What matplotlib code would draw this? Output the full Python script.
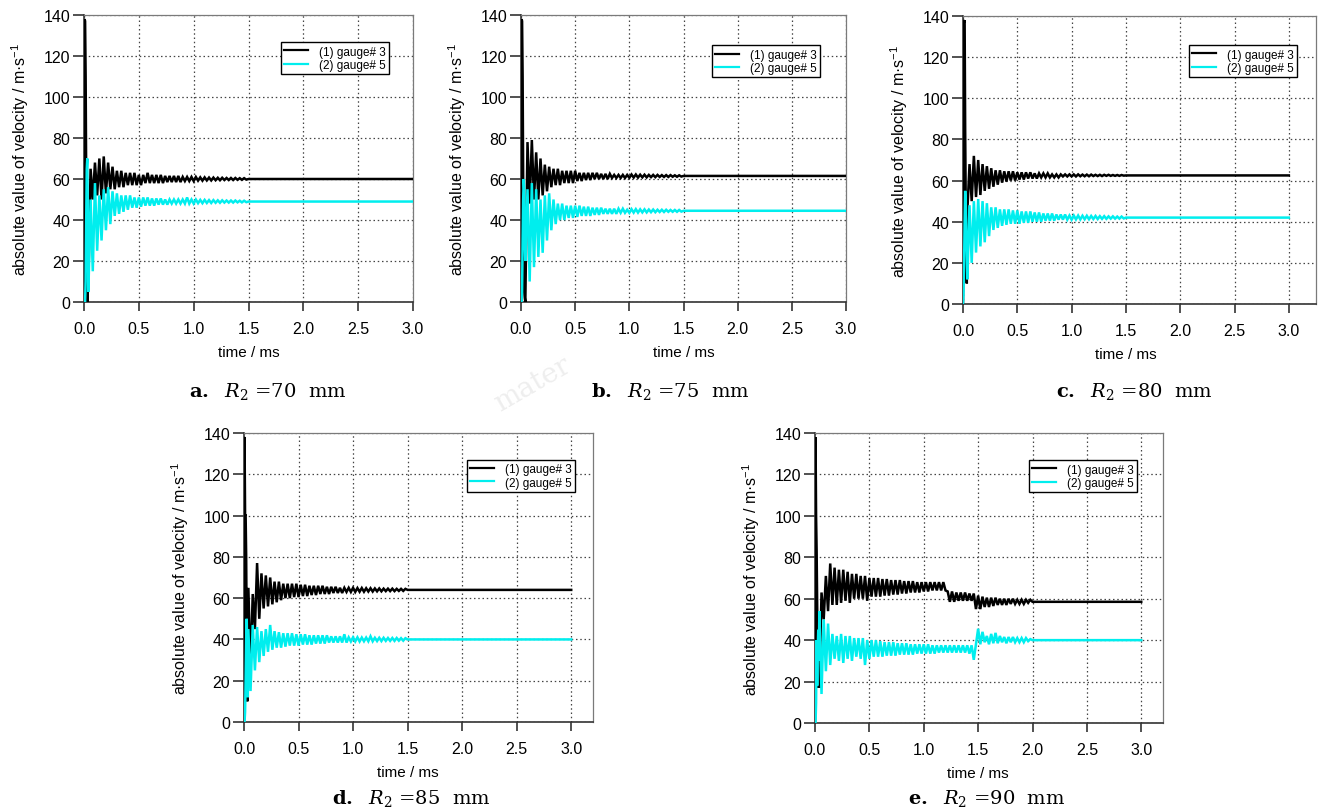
import numpy as np
import matplotlib
matplotlib.use("Agg")
import matplotlib.pyplot as plt
from matplotlib import font_manager

# time samples (ms)
T_SPIKE = [0.0, 0.005, 0.01, 0.015, 0.02, 0.025, 0.03, 0.035]
BAND_T0, BAND_DT = 0.04, 0.02      # ringing part, one sample every 0.02 ms
T_TAIL = [1.5, 2.0, 2.5, 3.0]
T_TAIL_E = [2.0, 2.5, 3.0]

# a. R2 = 70 mm
a_g3_spike = [0, 138, 137, 110, 60, 20, 0, 5]
a_g3_band = [10, 65, 50, 68, 52, 70, 50, 71, 53, 68, 55, 66, 55, 64, 56, 64, 56, 63, 57, 63,
             57, 63, 57, 62, 57, 62, 58, 63, 58, 62, 58, 62, 58, 62, 58, 61.5, 58.5, 61.5, 58.5, 61.5,
             58.5, 61.5, 58.5, 61, 59, 61, 59, 61,
             59, 61, 59.2, 60.8, 59.2, 60.8, 59.3, 60.7, 59.3, 60.7, 59.4, 60.6, 59.4, 60.6, 59.5, 60.5,
             59.5, 60.5, 59.5, 60.5, 59.6, 60.4, 59.6, 60.4, 59.7]
a_g3_tail = [60, 60, 60, 60]
a_g5_spike = [0, 0, 0, 10, 40, 65, 70, 40]
a_g5_band = [5, 50, 15, 58, 25, 52, 30, 55, 35, 56, 38, 54, 42, 53, 43, 52, 44, 52, 45, 52,
             46, 51, 46, 51, 46.5, 51, 47, 51, 47, 50.5, 47, 50.5, 47.5, 50.5, 47.5, 50, 47.5, 50, 48, 50,
             48, 50, 48, 50, 48, 51, 48, 50,
             48, 50, 48.2, 49.8, 48.2, 49.8, 48.3, 49.7, 48.3, 49.7, 48.4, 49.6, 48.4, 49.6, 48.5, 49.5,
             48.5, 49.5, 48.5, 49.5, 48.6, 49.4, 48.6, 49.4, 48.7]
a_g5_tail = [49, 49, 49, 49]

# b. R2 = 75 mm
b_g3_spike = [0, 138, 137, 110, 60, 30, 5, 2]
b_g3_band = [0, 78, 48, 79, 50, 73, 50, 70, 52, 67, 54, 66, 56, 65, 57, 65, 57, 64, 58, 64,
             58, 64, 58, 64, 59, 63, 59, 63, 59.5, 63, 59.5, 63, 60, 63, 60, 62.5, 60, 62.5, 60, 62.5,
             60.5, 62, 60.5, 62, 60.5, 62, 60.5, 62,
             60.6, 62.2, 60.7, 62.2, 60.7, 62.1, 60.8, 62.1, 60.8, 62, 60.9, 62, 60.9, 62, 61, 61.9,
             61, 61.9, 61, 61.9, 61.1, 61.8, 61.1, 61.8, 61.2]
b_g3_tail = [61.5, 61.5, 61.5, 61.5]
b_g5_spike = [0, 0, 5, 30, 50, 60, 55, 30]
b_g5_band = [20, 55, 10, 58, 17, 55, 22, 50, 24, 52, 30, 53, 35, 50, 38, 48, 40, 48, 40, 47,
             41, 47, 41, 47, 41.5, 47, 42, 46.5, 42, 46.5, 42, 46, 42.5, 46, 42.5, 46, 43, 45.5, 43, 45.5,
             43, 45.5, 43, 45.5, 43.5, 45.5, 43.5, 45,
             43.5, 45.3, 43.6, 45.3, 43.6, 45.2, 43.7, 45.2, 43.7, 45.1, 43.8, 45.1, 43.8, 45, 43.9, 45,
             43.9, 45, 44, 44.9, 44, 44.9, 44, 44.9, 44.1]
b_g5_tail = [44.5, 44.5, 44.5, 44.5]

# c. R2 = 80 mm
c_g3_spike = [0, 138, 137, 138, 85, 50, 20, 10]
c_g3_band = [45, 68, 50, 72, 52, 70, 53, 68, 55, 67, 56, 66, 57, 65, 58, 65, 59, 64.5, 59.5, 64.5,
             60, 64.5, 60, 64, 60.5, 64, 60.5, 64, 61, 64, 61, 63.5, 61, 63.5, 61.5, 63.5, 61.5, 63.5, 61.5, 63,
             61.5, 63, 61.5, 63, 62, 63, 62, 63,
             62, 63, 62, 63, 62.1, 62.9, 62.1, 62.9, 62.1, 62.9, 62.2, 62.8, 62.2, 62.8, 62.2, 62.8,
             62.3, 62.8, 62.3, 62.7, 62.3, 62.7, 62.3, 62.7, 62.4]
c_g3_tail = [62.5, 62.5, 62.5, 62.5]
c_g5_spike = [0, 5, 20, 40, 55, 50, 35, 25]
c_g5_band = [12, 48, 20, 50, 25, 51, 28, 50, 30, 49, 33, 47, 36, 47, 37, 46, 38, 46, 38.5, 46,
             39, 45.5, 39, 45.5, 39, 45, 39.5, 45, 39.5, 45, 40, 44.5, 40, 44.5, 40, 44, 40.5, 44, 40.5, 44,
             40.5, 43.5, 41, 43.5, 41, 43.5, 41, 43,
             41, 43, 41.1, 43, 41.1, 42.9, 41.2, 42.9, 41.2, 42.8, 41.3, 42.8, 41.3, 42.7, 41.4, 42.7,
             41.4, 42.6, 41.5, 42.6, 41.5, 42.5, 41.5, 42.5, 41.6]
c_g5_tail = [42, 42, 42, 42]

# d. R2 = 85 mm
d_g3_spike = [0, 138, 100, 100, 80, 40, 10, 20]
d_g3_band = [65, 25, 62, 45, 77, 50, 72, 55, 71, 56, 70, 57, 68, 58, 68, 59, 67, 60, 67, 60,
             67, 60.5, 67, 60.5, 66.5, 61, 66.5, 61, 66, 61.5, 66, 61.5, 66, 62, 66, 62, 65.5, 62, 65.5, 62.5,
             65.5, 62.5, 65, 62.5, 65, 63, 65, 63,
             65, 63, 64.9, 63.1, 64.9, 63.1, 64.8, 63.2, 64.8, 63.2, 64.7, 63.3, 64.7, 63.3, 64.6, 63.4,
             64.6, 63.4, 64.6, 63.4, 64.5, 63.5, 64.5, 63.5, 64.5]
d_g3_tail = [64, 64, 64, 64]
d_g5_spike = [0, 0, 5, 20, 40, 50, 30, 12]
d_g5_band = [45, 15, 47, 25, 46, 29, 44, 32, 45, 34, 47, 35, 44, 36, 43.5, 36, 43, 36.5, 43, 37,
             43, 37, 42.5, 37, 42.5, 37.5, 42.5, 37.5, 42, 37.5, 42, 38, 42, 38, 42, 38, 42, 38.5, 41.5, 38.5,
             41.5, 38.5, 41.5, 38.5, 42.5, 38.5, 41, 39,
             41, 39, 41, 39, 40.9, 39.1, 40.9, 39.1, 41.5, 39.1, 40.8, 39.2, 40.8, 39.2, 40.8, 39.3,
             40.7, 39.3, 40.7, 39.3, 40.7, 39.4, 40.6, 39.4, 40.6]
d_g5_tail = [40, 40, 40, 40]

# e. R2 = 90 mm (ringing lasts longer, steps near 1.2 and 1.5 ms)
e_g3_spike = [0, 138, 100, 83, 57, 30, 17, 40]
e_g3_band = [17, 63, 50, 71, 54, 77, 57, 75, 57, 74, 58, 74, 59, 73, 58, 72, 60, 72, 60, 71,
             60, 71, 59, 70, 61, 70, 61, 70, 61, 69.5, 61.5, 69.5, 61.5, 69, 62, 69, 62, 69, 62.5, 68.5,
             62.5, 68.5, 63, 68.5, 63, 68, 63, 68, 63.5, 68, 63.5, 68, 64, 68, 64, 68, 64, 68, 64, 63.5,
             58.5, 63.5, 58.5, 63, 59, 63, 59, 63, 59, 62.5, 59, 62.5, 55, 61.5, 55, 61, 56, 60.5, 56, 60.5,
             56.5, 60.5, 57, 60, 57, 60, 57, 60, 57.5, 60, 57.5, 59.5, 57.5, 59.5, 57.5, 59.5, 58, 59.5]
e_g3_tail = [58.5, 58.5, 58.5]
e_g5_spike = [0, 0, 10, 40, 18, 35, 45, 30]
e_g5_band = [54, 14, 50, 25, 48, 28, 43, 31, 42, 30, 43, 29, 42, 31, 42, 30, 41, 32, 41, 31,
             41, 28, 40, 31, 40, 32, 40, 32, 39.5, 32, 39, 32.5, 39, 32.5, 39, 32.5, 38.5, 33, 38.5, 33,
             38.5, 33, 38, 33, 38, 33.5, 38, 33.5, 38, 33.5, 38, 33.5, 37.5, 33.5, 37.5, 34, 37.5, 34, 37.5, 34,
             37.5, 34, 37.5, 34, 37.5, 34, 37.5, 34, 37.5, 33.5, 37.5, 30.5, 38, 45.5, 38, 44, 39, 42, 38, 43,
             38.5, 43.5, 38.5, 42, 39, 41.5, 38.5, 41.5, 39, 41.5, 39, 41, 39, 41, 39, 41, 39.5, 40.5]
e_g5_tail = [40, 40, 40]

labels = ["a", "b", "c", "d", "e"]
radii = [70, 75, 80, 85, 90]
legend_names = ["(1) gauge# 3", "(2) gauge# 5"]
colors = ["#000000", "#00eeee"]

names = {f.name for f in font_manager.fontManager.ttflist}
SANS = "Liberation Sans"
LEG = "Liberation Sans Narrow" if "Liberation Sans Narrow" in names else SANS
plt.rcParams["font.family"] = SANS
plt.rcParams["mathtext.fontset"] = "custom"
plt.rcParams["mathtext.rm"] = SANS
plt.rcParams["mathtext.it"] = SANS + ":italic"


def trace(spike, band, tail, t_tail):
    t_band = BAND_T0 + BAND_DT * np.arange(len(band))
    t = np.concatenate([T_SPIKE, t_band, t_tail])
    v = np.concatenate([spike, band, tail])
    return t, v


data = {
    "a": [(a_g3_spike, a_g3_band, a_g3_tail, T_TAIL), (a_g5_spike, a_g5_band, a_g5_tail, T_TAIL)],
    "b": [(b_g3_spike, b_g3_band, b_g3_tail, T_TAIL), (b_g5_spike, b_g5_band, b_g5_tail, T_TAIL)],
    "c": [(c_g3_spike, c_g3_band, c_g3_tail, T_TAIL), (c_g5_spike, c_g5_band, c_g5_tail, T_TAIL)],
    "d": [(d_g3_spike, d_g3_band, d_g3_tail, T_TAIL), (d_g5_spike, d_g5_band, d_g5_tail, T_TAIL)],
    "e": [(e_g3_spike, e_g3_band, e_g3_tail, T_TAIL_E), (e_g5_spike, e_g5_band, e_g5_tail, T_TAIL_E)],
}

# layout in pixels: left, top, right, bottom of the axes frame; x max of frame
W, H = 1319, 812
frames = {
    "a": (84, 16, 413, 303, 3.0),
    "b": (521, 16, 846, 303, 3.0),
    "c": (963, 17, 1316, 305, 3.25),
    "d": (244, 434, 593, 723, 3.2),
    "e": (815, 434, 1163, 724, 3.2),
}
legend_pos = {"a": (0.927, 0.906), "b": (0.92, 0.895), "c": (0.946, 0.899),
              "d": (0.948, 0.907), "e": (0.925, 0.907)}
caption_pos = {"a": (268, 392), "b": (670, 392), "c": (1134, 392),
               "d": (411, 799), "e": (987, 799)}

fig = plt.figure(figsize=(W / 100, H / 100), dpi=100)

for lab, r in zip(labels, radii):
    l, t, rgt, b, xmax = frames[lab]
    ax = fig.add_axes([l / W, 1 - b / H, (rgt - l) / W, (b - t) / H])
    for (sp, bd, tl, tt), c, name in zip(data[lab], colors, legend_names):
        x, y = trace(sp, bd, tl, tt)
        ax.plot(x, y, color=c, lw=1.8, label=name, zorder=3, solid_joinstyle="miter")
    ax.set_xlim(0, xmax)
    ax.set_ylim(0, 140)
    ax.set_xticks([0, 0.5, 1.0, 1.5, 2.0, 2.5, 3.0])
    ax.set_xticklabels(["0.0", "0.5", "1.0", "1.5", "2.0", "2.5", "3.0"])
    ax.set_yticks(range(0, 141, 20))
    ax.grid(True, color="#444444", linestyle=(0, (1.2, 2.2)), lw=0.9, zorder=0)
    ax.tick_params(axis="x", direction="out", length=6.5, width=1.2, color="#333333",
                   labelsize=11.5, pad=7)
    ax.tick_params(axis="y", direction="out", length=8, width=1.2, color="#333333",
                   labelsize=11.5, pad=2)
    for s in ["left", "bottom"]:
        ax.spines[s].set_color("#333333")
        ax.spines[s].set_linewidth(1.2)
    for s in ["top", "right"]:
        ax.spines[s].set_color("#7a7a7a")
        ax.spines[s].set_linewidth(0.9)
    ax.set_xlabel("time / ms", fontsize=11, labelpad=7)
    ax.xaxis.label.set_x(1.5 / xmax)
    ax.set_ylabel("absolute value of velocity / m·s$^{-1}$", fontsize=11.5, labelpad=9)
    leg = ax.legend(loc="upper right", bbox_to_anchor=legend_pos[lab],
                    prop={"family": LEG, "size": 9 if LEG != SANS else 8.5},
                    frameon=True, fancybox=False, framealpha=1, edgecolor="black",
                    handlelength=2.0, handletextpad=0.9, borderpad=0.3, labelspacing=0.1,
                    borderaxespad=0)
    leg.get_frame().set_linewidth(1.0)
    for h in leg.get_lines():
        h.set_linewidth(1.6)
    cx, cy = caption_pos[lab]
    fig.text(cx / W, 1 - cy / H, r"$\mathbf{%s.}$  $R_2$ =%d  mm" % (lab, r),
             family="DejaVu Serif", math_fontfamily="dejavuserif", fontsize=14,
             ha="center", va="center")

fig.text(532 / W, 1 - 385 / H, "mater", rotation=30, color="#eeeeee", fontsize=20,
         family="DejaVu Serif", ha="center", va="center")

fig.savefig("out.png", dpi=100)
